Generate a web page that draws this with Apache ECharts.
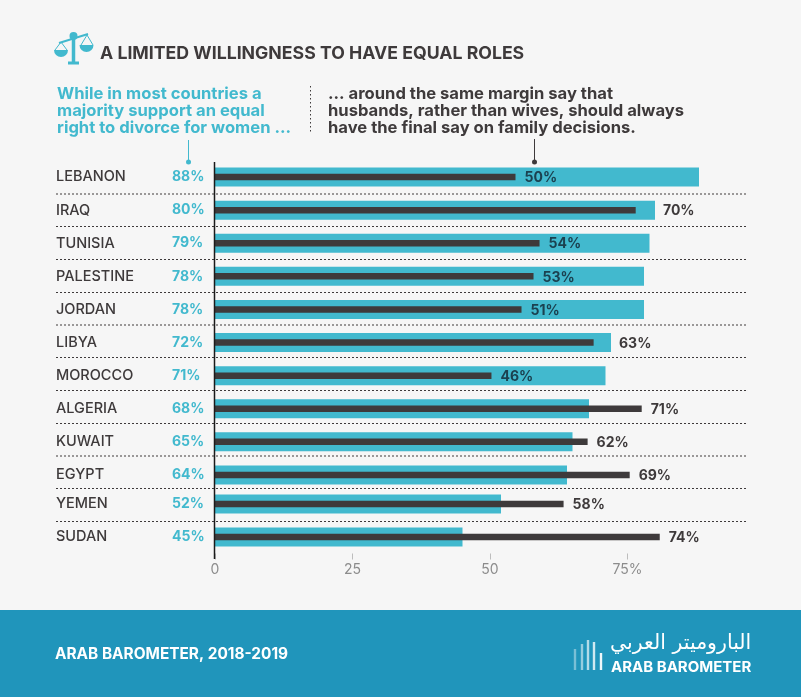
<!DOCTYPE html>
<html>
<head>
<meta charset="utf-8">
<style>
  html, body { margin: 0; padding: 0; background: #f6f6f6; }
  #chart { width: 801px; height: 697px; }
</style>
<script src="https://cdn.jsdelivr.net/npm/echarts@6/dist/echarts.min.js"></script>
</head>
<body>
<div id="chart"></div>
<script>
var countries = ["LEBANON","IRAQ","TUNISIA","PALESTINE","JORDAN","LIBYA","MOROCCO","ALGERIA","KUWAIT","EGYPT","YEMEN","SUDAN"];
var divorceRight = [88,80,79,78,78,72,71,68,65,64,52,45];
var husbandsFinal = [50,70,54,53,51,63,46,71,62,69,58,74];
var tickValues = [0,25,50,75];
var tickLabels = ["0","25","50","75%"];

var FONT = "Inter";
var TEAL = "#42b9ce";
var DARK = "#3e3a3b";

// the two scales of the reference differ: teal 5.5px per point, dark 6.01px per point
var plotW = 550;
var tealMax = plotW / 5.5;
var darkMax = plotW / 6.01;

// yemen and sudan sit a little closer, so they get their own grid
var panels = [
  { from: 0, to: 10, top: 160.5, height: 331 },
  { from: 10, to: 12, top: 487.5, height: 66 }
];

var grids = [], xAxes = [], yAxes = [], series = [];

function hiddenY(cats, gridIndex) {
  return { type: "category", inverse: true, data: cats, gridIndex: gridIndex,
    axisLine: { show: false }, axisTick: { show: false }, axisLabel: { show: false } };
}

panels.forEach(function (p, i) {
  var cats = countries.slice(p.from, p.to);
  var teal = divorceRight.slice(p.from, p.to);
  var dark = husbandsFinal.slice(p.from, p.to);
  var isLast = i === panels.length - 1;

  grids.push({ left: 215, width: plotW, top: p.top, height: p.height });

  // teal scale
  xAxes.push({
    type: "value", gridIndex: i, min: 0, max: tealMax,
    splitLine: { show: false }, axisLine: { show: false },
    axisTick: { show: isLast, length: 6, customValues: tickValues, lineStyle: { color: "#bdbdbd" } },
    axisLabel: { show: isLast, margin: 9, color: "#8c8c8c", fontFamily: FONT, fontSize: 14, customValues: tickValues,
      formatter: function (v) { return tickLabels[v / 25]; } }
  });
  // dark scale
  xAxes.push({
    type: "value", gridIndex: i, min: 0, max: darkMax, show: false, splitLine: { show: false }
  });

  var labelled = hiddenY(cats, i);
  labelled.axisLabel = { show: true, align: "left", margin: 159, color: DARK, padding: [2, 0, 0, 0],
    fontFamily: FONT, fontSize: 14.5, fontWeight: 500 };
  yAxes.push(labelled);
  yAxes.push(hiddenY(cats, i));

  series.push({
    type: "bar", name: "Equal right to divorce", xAxisIndex: i * 2, yAxisIndex: i * 2,
    barWidth: 19, silent: true, itemStyle: { color: TEAL }, data: teal,
    label: { show: true, position: [-43, "50%"], verticalAlign: "middle", color: TEAL,
      fontFamily: FONT, fontSize: 14, fontWeight: 700, formatter: "{c}%" }
  });
  series.push({
    type: "bar", name: "Husbands final say", xAxisIndex: i * 2 + 1, yAxisIndex: i * 2 + 1,
    barWidth: 6.5, silent: true, itemStyle: { color: DARK },
    data: dark.map(function (v, k) {
      var gap = teal[k] * 5.5 - v * 6.01;
      var inside = gap >= 40;
      return { value: v, label: {
        color: inside ? "#1b4150" : DARK,
        // a label that would not fit inside the teal bar clears its end
        distance: (gap > 0 && !inside) ? gap + 8 : 9
      } };
    }),
    label: { show: true, position: "right", offset: [0, 1], fontFamily: FONT, fontSize: 14, fontWeight: 700, formatter: "{c}%" }
  });
});

// header, footer and decorations
var graphics = [];

function text(x, y, str, color, size, weight, family) {
  graphics.push({ type: "text", x: x, y: y, silent: true, z: 10, style: {
    text: str, fill: color, font: (weight || 400) + " " + size + "px " + (family || FONT), textVerticalAlign: "middle"
  } });
}
function line(x1, y1, x2, y2, color, width, dash) {
  graphics.push({ type: "line", silent: true, z: 9, shape: { x1: x1, y1: y1, x2: x2, y2: y2 },
    style: { stroke: color, lineWidth: width, lineDash: dash || null } });
}
function dot(x, y, r, color) {
  graphics.push({ type: "circle", silent: true, z: 9, shape: { cx: x, cy: y, r: r }, style: { fill: color } });
}

graphics.push({ type: "rect", silent: true, z: 1, shape: { x: 0, y: 610, width: 801, height: 87 }, style: { fill: "#2095bb" } });

// scales icon
line(73.5, 37, 73.5, 62, TEAL, 3.5);
line(68, 63, 79, 63, TEAL, 3);
line(59, 43, 88, 34, TEAL, 2);
dot(73.5, 36, 4, TEAL);
line(61, 42, 55, 50, TEAL, 1);
line(61, 42, 67, 50, TEAL, 1);
line(87, 35, 81, 45, TEAL, 1);
line(87, 35, 93, 45, TEAL, 1);
graphics.push({ type: "sector", silent: true, z: 9, shape: { cx: 61, cy: 50, r: 7, startAngle: 0, endAngle: Math.PI }, style: { fill: TEAL } });
graphics.push({ type: "sector", silent: true, z: 9, shape: { cx: 86.5, cy: 45, r: 7, startAngle: 0, endAngle: Math.PI }, style: { fill: TEAL } });

text(100, 53.5, "A LIMITED WILLINGNESS TO HAVE EQUAL ROLES", DARK, 17.7, 700);

["While in most countries a", "majority support an equal", "right to divorce for women ..."].forEach(function (s, i) {
  text(57, 93.5 + i * 17, s, TEAL, 16.6, 700);
});
["... around the same margin say that", "husbands, rather than wives, should always", "have the final say on family decisions."].forEach(function (s, i) {
  text(328, 93.5 + i * 17, s, DARK, 16.6, 700);
});

line(310.5, 86, 310.5, 132, DARK, 1, [1.5, 2.5]);
line(188.5, 140, 188.5, 162, TEAL, 1);
dot(188.5, 162, 2.5, TEAL);
line(534.5, 139, 534.5, 162, DARK, 1);
dot(534.5, 162, 2.5, DARK);

// row separators
[194, 226.5, 259.5, 292.5, 325, 357.5, 390.5, 423.5, 456, 488.5, 521.5].forEach(function (y) {
  line(56, y, 746, y, DARK, 1, [2, 2]);
});
// zero line
line(214.5, 162, 214.5, 559, "#1a1a1a", 1.5);

// footer
text(55, 654, "ARAB BAROMETER, 2018-2019", "#ffffff", 15.4, 700);
[[575, 649, 670], [582, 644, 670], [588, 640, 670], [594, 642, 670], [601, 653, 670]].forEach(function (b, i) {
  line(b[0], b[1], b[0], b[2], "rgba(255,255,255," + (0.4 + 0.13 * i) + ")", 2.4);
});
text(610, 644, "الباروميتر العربي", "#ffffff", 20.5, 400, "DejaVu Sans");
text(611, 667, "ARAB BAROMETER", "#ffffff", 15, 700);

var chart = echarts.init(document.getElementById("chart"));
chart.setOption({
  backgroundColor: "#f6f6f6",
  animation: false,
  grid: grids,
  xAxis: xAxes,
  yAxis: yAxes,
  series: series,
  graphic: { elements: graphics }
});
</script>
</body>
</html>
